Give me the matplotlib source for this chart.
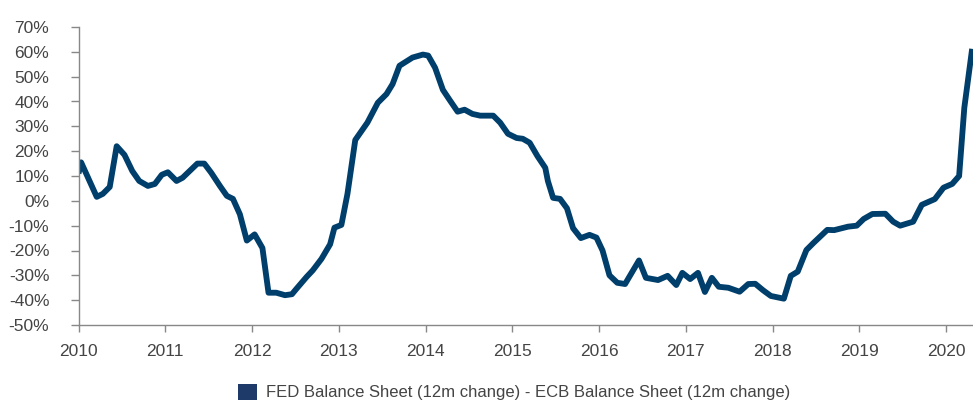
import matplotlib
matplotlib.use("Agg")
import matplotlib.pyplot as plt
from matplotlib.patches import Patch

# FED minus ECB balance sheet, 12m change (%)
dates = [2010.00, 2010.03, 2010.21, 2010.28, 2010.36, 2010.44, 2010.53, 2010.62, 2010.70, 2010.80,
         2010.88, 2010.96, 2011.03, 2011.13, 2011.20, 2011.37, 2011.45, 2011.53, 2011.63, 2011.71,
         2011.78, 2011.86, 2011.94, 2012.03, 2012.12, 2012.19, 2012.28, 2012.38, 2012.46, 2012.51,
         2012.63, 2012.70, 2012.80, 2012.90, 2012.95, 2013.03, 2013.10, 2013.19, 2013.33, 2013.45,
         2013.55, 2013.62, 2013.70, 2013.85, 2013.97, 2014.03, 2014.11, 2014.20, 2014.28, 2014.37,
         2014.45, 2014.54, 2014.63, 2014.78, 2014.86, 2014.95, 2015.05, 2015.12, 2015.20, 2015.29,
         2015.38, 2015.41, 2015.47, 2015.55, 2015.63, 2015.70, 2015.79, 2015.89, 2015.97, 2016.04,
         2016.12, 2016.21, 2016.30, 2016.46, 2016.54, 2016.68, 2016.79, 2016.89, 2016.96, 2017.05,
         2017.14, 2017.22, 2017.30, 2017.38, 2017.49, 2017.62, 2017.72, 2017.80, 2017.89, 2017.98,
         2018.13, 2018.21, 2018.29, 2018.39, 2018.47, 2018.63, 2018.71, 2018.87, 2018.97, 2019.05,
         2019.15, 2019.30, 2019.39, 2019.47, 2019.62, 2019.72, 2019.87, 2019.97, 2020.07, 2020.15,
         2020.21, 2020.30]
spread = [11, 15.5, 1.6, 2.8, 5.6, 22, 18.5, 12, 8, 6,
          6.8, 10.5, 11.5, 8, 9.3, 15, 15, 11.3, 6, 2,
          0.8, -5.4, -16, -13.5, -19, -37, -37, -38, -37.6, -35.5,
          -30.6, -28, -23.4, -17.5, -10.8, -9.7, 2.8, 24.5, 31.5, 39.5,
          43, 47, 54.4, 57.7, 58.9, 58.5, 53.6, 44.7, 40.5, 35.9,
          36.7, 35, 34.3, 34.3, 31.5, 27, 25.3, 25, 23.4, 18,
          13.3, 8, 1.2, 0.8, -3, -11, -15, -13.7, -14.8, -20,
          -30, -33, -33.5, -24, -31, -31.9, -30.2, -33.9, -29, -31.5,
          -29, -36.7, -31, -34.6, -35, -36.6, -33.5, -33.4, -36, -38.3,
          -39.4, -30.2, -28.5, -19.8, -17, -11.7, -11.8, -10.4, -10, -7.3,
          -5.3, -5.2, -8.4, -10, -8.4, -1.6, 0.7, 5.3, 6.8, 10,
          37.5, 61.2]

years = list(range(2010, 2021))
yticks = list(range(-50, 71, 10))
legend_label = "FED Balance Sheet (12m change) - ECB Balance Sheet (12m change)"

plt.rcParams['font.family'] = ['Liberation Sans', 'DejaVu Sans']

line_color = '#003e6b'
text_color = '#444444'
axis_color = '#888888'

fig = plt.figure(figsize=(9.73, 4.0), dpi=100)
ax = fig.add_axes([78.5 / 973, 1 - 325 / 400, (973 - 78.5) / 973, (325 - 27) / 400])

ax.plot(dates, spread, color=line_color, lw=4.2, solid_joinstyle='round', solid_capstyle='butt')

ax.set_xlim(2010, 2020.31)
ax.set_ylim(-50, 70)
ax.set_xticks(years)
ax.set_xticklabels([str(y) for y in years])
ax.set_yticks(yticks)
ax.set_yticklabels([f"{v}%" for v in yticks])

for side in ['top', 'right']:
    ax.spines[side].set_visible(False)
for side in ['left', 'bottom']:
    ax.spines[side].set_color(axis_color)
    ax.spines[side].set_linewidth(1.0)

ax.tick_params(axis='y', length=6, width=1, color=axis_color, pad=15, labelsize=12.5, labelcolor=text_color)
ax.tick_params(axis='x', length=5, width=1, color=axis_color, pad=9, labelsize=12.5, labelcolor=text_color)

handle = Patch(facecolor='#1d3a68', edgecolor='none')
fig.legend([handle], [legend_label], loc='center left', bbox_to_anchor=(0.238, 0.02),
           frameon=False, handlelength=1.15, handleheight=1.15, handletextpad=0.5,
           fontsize=12, labelcolor=text_color, borderaxespad=0)

fig.savefig("out.png", dpi=100)
